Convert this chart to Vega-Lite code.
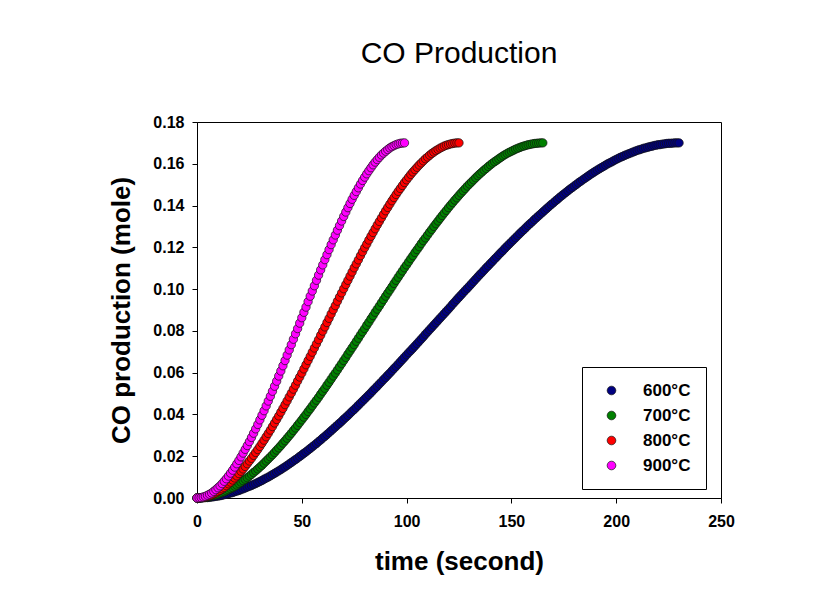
{
"$schema": "https://vega.github.io/schema/vega-lite/v6.json",
"autosize": "none",
"width": 524,
"height": 376,
"padding": {"left": 197, "top": 122, "right": 103, "bottom": 93},
"background": "white",
"config": {"view": {"stroke": "black", "strokeWidth": 1}, "font": "Liberation Sans"},
"title": {"text": "CO Production", "fontSize": 30, "fontWeight": "normal", "font": "Liberation Sans", "color": "black", "anchor": "middle", "frame": "group", "baseline": "alphabetic", "offset": 21},
"datasets": {
"d600": [{"t":0,"y":0},{"t":1,"y":0},{"t":2,"y":0},{"t":3,"y":0.0001},{"t":4,"y":0.0002},{"t":5,"y":0.0002},{"t":6,"y":0.0003},{"t":7,"y":0.0005},{"t":8,"y":0.0006},{"t":9,"y":0.0008},{"t":10,"y":0.0009},{"t":11,"y":0.0011},{"t":12,"y":0.0013},{"t":13,"y":0.0016},{"t":14,"y":0.0018},{"t":15,"y":0.0021},{"t":16,"y":0.0024},{"t":17,"y":0.0026},{"t":18,"y":0.003},{"t":19,"y":0.0033},{"t":20,"y":0.0036},{"t":21,"y":0.004},{"t":22,"y":0.0044},{"t":23,"y":0.0048},{"t":24,"y":0.0052},{"t":25,"y":0.0056},{"t":26,"y":0.006},{"t":27,"y":0.0065},{"t":28,"y":0.0069},{"t":29,"y":0.0074},{"t":30,"y":0.0079},{"t":31,"y":0.0084},{"t":32,"y":0.009},{"t":33,"y":0.0095},{"t":34,"y":0.01},{"t":35,"y":0.0106},{"t":36,"y":0.0112},{"t":37,"y":0.0118},{"t":38,"y":0.0124},{"t":39,"y":0.013},{"t":40,"y":0.0136},{"t":41,"y":0.0143},{"t":42,"y":0.0149},{"t":43,"y":0.0156},{"t":44,"y":0.0163},{"t":45,"y":0.017},{"t":46,"y":0.0177},{"t":47,"y":0.0184},{"t":48,"y":0.0191},{"t":49,"y":0.0199},{"t":50,"y":0.0206},{"t":51,"y":0.0214},{"t":52,"y":0.0221},{"t":53,"y":0.0229},{"t":54,"y":0.0237},{"t":55,"y":0.0245},{"t":56,"y":0.0253},{"t":57,"y":0.0261},{"t":58,"y":0.027},{"t":59,"y":0.0278},{"t":60,"y":0.0287},{"t":61,"y":0.0295},{"t":62,"y":0.0304},{"t":63,"y":0.0313},{"t":64,"y":0.0322},{"t":65,"y":0.0331},{"t":66,"y":0.034},{"t":67,"y":0.0349},{"t":68,"y":0.0358},{"t":69,"y":0.0367},{"t":70,"y":0.0377},{"t":71,"y":0.0386},{"t":72,"y":0.0395},{"t":73,"y":0.0405},{"t":74,"y":0.0415},{"t":75,"y":0.0424},{"t":76,"y":0.0434},{"t":77,"y":0.0444},{"t":78,"y":0.0454},{"t":79,"y":0.0464},{"t":80,"y":0.0474},{"t":81,"y":0.0484},{"t":82,"y":0.0494},{"t":83,"y":0.0504},{"t":84,"y":0.0515},{"t":85,"y":0.0525},{"t":86,"y":0.0535},{"t":87,"y":0.0546},{"t":88,"y":0.0556},{"t":89,"y":0.0567},{"t":90,"y":0.0577},{"t":91,"y":0.0588},{"t":92,"y":0.0598},{"t":93,"y":0.0609},{"t":94,"y":0.062},{"t":95,"y":0.063},{"t":96,"y":0.0641},{"t":97,"y":0.0652},{"t":98,"y":0.0663},{"t":99,"y":0.0674},{"t":100,"y":0.0685},{"t":101,"y":0.0696},{"t":102,"y":0.0706},{"t":103,"y":0.0717},{"t":104,"y":0.0728},{"t":105,"y":0.0739},{"t":106,"y":0.075},{"t":107,"y":0.0761},{"t":108,"y":0.0772},{"t":109,"y":0.0784},{"t":110,"y":0.0795},{"t":111,"y":0.0806},{"t":112,"y":0.0817},{"t":113,"y":0.0828},{"t":114,"y":0.0839},{"t":115,"y":0.085},{"t":116,"y":0.0861},{"t":117,"y":0.0872},{"t":118,"y":0.0883},{"t":119,"y":0.0894},{"t":120,"y":0.0905},{"t":121,"y":0.0916},{"t":122,"y":0.0928},{"t":123,"y":0.0939},{"t":124,"y":0.095},{"t":125,"y":0.0961},{"t":126,"y":0.0972},{"t":127,"y":0.0983},{"t":128,"y":0.0994},{"t":129,"y":0.1004},{"t":130,"y":0.1015},{"t":131,"y":0.1026},{"t":132,"y":0.1037},{"t":133,"y":0.1048},{"t":134,"y":0.1059},{"t":135,"y":0.107},{"t":136,"y":0.108},{"t":137,"y":0.1091},{"t":138,"y":0.1102},{"t":139,"y":0.1112},{"t":140,"y":0.1123},{"t":141,"y":0.1133},{"t":142,"y":0.1144},{"t":143,"y":0.1154},{"t":144,"y":0.1165},{"t":145,"y":0.1175},{"t":146,"y":0.1185},{"t":147,"y":0.1196},{"t":148,"y":0.1206},{"t":149,"y":0.1216},{"t":150,"y":0.1226},{"t":151,"y":0.1236},{"t":152,"y":0.1246},{"t":153,"y":0.1256},{"t":154,"y":0.1266},{"t":155,"y":0.1276},{"t":156,"y":0.1285},{"t":157,"y":0.1295},{"t":158,"y":0.1305},{"t":159,"y":0.1314},{"t":160,"y":0.1323},{"t":161,"y":0.1333},{"t":162,"y":0.1342},{"t":163,"y":0.1351},{"t":164,"y":0.136},{"t":165,"y":0.1369},{"t":166,"y":0.1378},{"t":167,"y":0.1387},{"t":168,"y":0.1396},{"t":169,"y":0.1405},{"t":170,"y":0.1413},{"t":171,"y":0.1422},{"t":172,"y":0.143},{"t":173,"y":0.1439},{"t":174,"y":0.1447},{"t":175,"y":0.1455},{"t":176,"y":0.1463},{"t":177,"y":0.1471},{"t":178,"y":0.1479},{"t":179,"y":0.1486},{"t":180,"y":0.1494},{"t":181,"y":0.1501},{"t":182,"y":0.1509},{"t":183,"y":0.1516},{"t":184,"y":0.1523},{"t":185,"y":0.153},{"t":186,"y":0.1537},{"t":187,"y":0.1544},{"t":188,"y":0.1551},{"t":189,"y":0.1557},{"t":190,"y":0.1564},{"t":191,"y":0.157},{"t":192,"y":0.1576},{"t":193,"y":0.1582},{"t":194,"y":0.1588},{"t":195,"y":0.1594},{"t":196,"y":0.16},{"t":197,"y":0.1605},{"t":198,"y":0.161},{"t":199,"y":0.1616},{"t":200,"y":0.1621},{"t":201,"y":0.1626},{"t":202,"y":0.1631},{"t":203,"y":0.1635},{"t":204,"y":0.164},{"t":205,"y":0.1644},{"t":206,"y":0.1648},{"t":207,"y":0.1652},{"t":208,"y":0.1656},{"t":209,"y":0.166},{"t":210,"y":0.1664},{"t":211,"y":0.1667},{"t":212,"y":0.167},{"t":213,"y":0.1674},{"t":214,"y":0.1676},{"t":215,"y":0.1679},{"t":216,"y":0.1682},{"t":217,"y":0.1684},{"t":218,"y":0.1687},{"t":219,"y":0.1689},{"t":220,"y":0.1691},{"t":221,"y":0.1692},{"t":222,"y":0.1694},{"t":223,"y":0.1695},{"t":224,"y":0.1697},{"t":225,"y":0.1698},{"t":226,"y":0.1698},{"t":227,"y":0.1699},{"t":228,"y":0.17},{"t":229,"y":0.17},{"t":230,"y":0.17}],
"d700": [{"t":0,"y":0},{"t":1,"y":0},{"t":2,"y":0.0001},{"t":3,"y":0.0002},{"t":4,"y":0.0003},{"t":5,"y":0.0005},{"t":6,"y":0.0007},{"t":7,"y":0.0009},{"t":8,"y":0.0012},{"t":9,"y":0.0015},{"t":10,"y":0.0018},{"t":11,"y":0.0022},{"t":12,"y":0.0026},{"t":13,"y":0.003},{"t":14,"y":0.0035},{"t":15,"y":0.004},{"t":16,"y":0.0045},{"t":17,"y":0.005},{"t":18,"y":0.0056},{"t":19,"y":0.0062},{"t":20,"y":0.0069},{"t":21,"y":0.0076},{"t":22,"y":0.0083},{"t":23,"y":0.009},{"t":24,"y":0.0097},{"t":25,"y":0.0105},{"t":26,"y":0.0113},{"t":27,"y":0.0122},{"t":28,"y":0.013},{"t":29,"y":0.0139},{"t":30,"y":0.0148},{"t":31,"y":0.0157},{"t":32,"y":0.0167},{"t":33,"y":0.0177},{"t":34,"y":0.0187},{"t":35,"y":0.0197},{"t":36,"y":0.0207},{"t":37,"y":0.0218},{"t":38,"y":0.0229},{"t":39,"y":0.024},{"t":40,"y":0.0251},{"t":41,"y":0.0263},{"t":42,"y":0.0274},{"t":43,"y":0.0286},{"t":44,"y":0.0298},{"t":45,"y":0.031},{"t":46,"y":0.0323},{"t":47,"y":0.0335},{"t":48,"y":0.0348},{"t":49,"y":0.0361},{"t":50,"y":0.0374},{"t":51,"y":0.0387},{"t":52,"y":0.04},{"t":53,"y":0.0414},{"t":54,"y":0.0427},{"t":55,"y":0.0441},{"t":56,"y":0.0455},{"t":57,"y":0.0468},{"t":58,"y":0.0482},{"t":59,"y":0.0497},{"t":60,"y":0.0511},{"t":61,"y":0.0525},{"t":62,"y":0.054},{"t":63,"y":0.0554},{"t":64,"y":0.0569},{"t":65,"y":0.0584},{"t":66,"y":0.0598},{"t":67,"y":0.0613},{"t":68,"y":0.0628},{"t":69,"y":0.0643},{"t":70,"y":0.0658},{"t":71,"y":0.0673},{"t":72,"y":0.0689},{"t":73,"y":0.0704},{"t":74,"y":0.0719},{"t":75,"y":0.0734},{"t":76,"y":0.075},{"t":77,"y":0.0765},{"t":78,"y":0.0781},{"t":79,"y":0.0796},{"t":80,"y":0.0811},{"t":81,"y":0.0827},{"t":82,"y":0.0842},{"t":83,"y":0.0858},{"t":84,"y":0.0873},{"t":85,"y":0.0889},{"t":86,"y":0.0904},{"t":87,"y":0.0919},{"t":88,"y":0.0935},{"t":89,"y":0.095},{"t":90,"y":0.0966},{"t":91,"y":0.0981},{"t":92,"y":0.0996},{"t":93,"y":0.1011},{"t":94,"y":0.1027},{"t":95,"y":0.1042},{"t":96,"y":0.1057},{"t":97,"y":0.1072},{"t":98,"y":0.1087},{"t":99,"y":0.1102},{"t":100,"y":0.1116},{"t":101,"y":0.1131},{"t":102,"y":0.1146},{"t":103,"y":0.116},{"t":104,"y":0.1175},{"t":105,"y":0.1189},{"t":106,"y":0.1203},{"t":107,"y":0.1218},{"t":108,"y":0.1232},{"t":109,"y":0.1245},{"t":110,"y":0.1259},{"t":111,"y":0.1273},{"t":112,"y":0.1286},{"t":113,"y":0.13},{"t":114,"y":0.1313},{"t":115,"y":0.1326},{"t":116,"y":0.1339},{"t":117,"y":0.1352},{"t":118,"y":0.1365},{"t":119,"y":0.1377},{"t":120,"y":0.139},{"t":121,"y":0.1402},{"t":122,"y":0.1414},{"t":123,"y":0.1426},{"t":124,"y":0.1437},{"t":125,"y":0.1449},{"t":126,"y":0.146},{"t":127,"y":0.1471},{"t":128,"y":0.1482},{"t":129,"y":0.1493},{"t":130,"y":0.1503},{"t":131,"y":0.1513},{"t":132,"y":0.1523},{"t":133,"y":0.1533},{"t":134,"y":0.1543},{"t":135,"y":0.1552},{"t":136,"y":0.1561},{"t":137,"y":0.157},{"t":138,"y":0.1578},{"t":139,"y":0.1587},{"t":140,"y":0.1595},{"t":141,"y":0.1603},{"t":142,"y":0.161},{"t":143,"y":0.1617},{"t":144,"y":0.1624},{"t":145,"y":0.1631},{"t":146,"y":0.1638},{"t":147,"y":0.1644},{"t":148,"y":0.165},{"t":149,"y":0.1655},{"t":150,"y":0.166},{"t":151,"y":0.1665},{"t":152,"y":0.167},{"t":153,"y":0.1674},{"t":154,"y":0.1678},{"t":155,"y":0.1682},{"t":156,"y":0.1685},{"t":157,"y":0.1688},{"t":158,"y":0.1691},{"t":159,"y":0.1693},{"t":160,"y":0.1695},{"t":161,"y":0.1697},{"t":162,"y":0.1698},{"t":163,"y":0.1699},{"t":164,"y":0.17},{"t":165,"y":0.17}],
"d800": [{"t":0,"y":0},{"t":1,"y":0},{"t":2,"y":0.0001},{"t":3,"y":0.0003},{"t":4,"y":0.0005},{"t":5,"y":0.0008},{"t":6,"y":0.0011},{"t":7,"y":0.0015},{"t":8,"y":0.002},{"t":9,"y":0.0025},{"t":10,"y":0.0031},{"t":11,"y":0.0037},{"t":12,"y":0.0044},{"t":13,"y":0.0051},{"t":14,"y":0.0059},{"t":15,"y":0.0068},{"t":16,"y":0.0076},{"t":17,"y":0.0086},{"t":18,"y":0.0096},{"t":19,"y":0.0106},{"t":20,"y":0.0117},{"t":21,"y":0.0128},{"t":22,"y":0.0139},{"t":23,"y":0.0151},{"t":24,"y":0.0164},{"t":25,"y":0.0177},{"t":26,"y":0.019},{"t":27,"y":0.0204},{"t":28,"y":0.0218},{"t":29,"y":0.0232},{"t":30,"y":0.0247},{"t":31,"y":0.0262},{"t":32,"y":0.0277},{"t":33,"y":0.0293},{"t":34,"y":0.0309},{"t":35,"y":0.0325},{"t":36,"y":0.0342},{"t":37,"y":0.0359},{"t":38,"y":0.0376},{"t":39,"y":0.0393},{"t":40,"y":0.0411},{"t":41,"y":0.0429},{"t":42,"y":0.0447},{"t":43,"y":0.0465},{"t":44,"y":0.0484},{"t":45,"y":0.0502},{"t":46,"y":0.0521},{"t":47,"y":0.054},{"t":48,"y":0.056},{"t":49,"y":0.0579},{"t":50,"y":0.0598},{"t":51,"y":0.0618},{"t":52,"y":0.0638},{"t":53,"y":0.0658},{"t":54,"y":0.0678},{"t":55,"y":0.0698},{"t":56,"y":0.0718},{"t":57,"y":0.0738},{"t":58,"y":0.0758},{"t":59,"y":0.0779},{"t":60,"y":0.0799},{"t":61,"y":0.0819},{"t":62,"y":0.084},{"t":63,"y":0.086},{"t":64,"y":0.0881},{"t":65,"y":0.0901},{"t":66,"y":0.0921},{"t":67,"y":0.0942},{"t":68,"y":0.0962},{"t":69,"y":0.0982},{"t":70,"y":0.1002},{"t":71,"y":0.1022},{"t":72,"y":0.1042},{"t":73,"y":0.1062},{"t":74,"y":0.1082},{"t":75,"y":0.1102},{"t":76,"y":0.1121},{"t":77,"y":0.114},{"t":78,"y":0.116},{"t":79,"y":0.1179},{"t":80,"y":0.1198},{"t":81,"y":0.1216},{"t":82,"y":0.1235},{"t":83,"y":0.1253},{"t":84,"y":0.1271},{"t":85,"y":0.1289},{"t":86,"y":0.1307},{"t":87,"y":0.1324},{"t":88,"y":0.1341},{"t":89,"y":0.1358},{"t":90,"y":0.1375},{"t":91,"y":0.1391},{"t":92,"y":0.1407},{"t":93,"y":0.1423},{"t":94,"y":0.1438},{"t":95,"y":0.1453},{"t":96,"y":0.1468},{"t":97,"y":0.1482},{"t":98,"y":0.1496},{"t":99,"y":0.151},{"t":100,"y":0.1523},{"t":101,"y":0.1536},{"t":102,"y":0.1549},{"t":103,"y":0.1561},{"t":104,"y":0.1572},{"t":105,"y":0.1583},{"t":106,"y":0.1594},{"t":107,"y":0.1604},{"t":108,"y":0.1614},{"t":109,"y":0.1624},{"t":110,"y":0.1632},{"t":111,"y":0.1641},{"t":112,"y":0.1649},{"t":113,"y":0.1656},{"t":114,"y":0.1663},{"t":115,"y":0.1669},{"t":116,"y":0.1675},{"t":117,"y":0.168},{"t":118,"y":0.1685},{"t":119,"y":0.1689},{"t":120,"y":0.1692},{"t":121,"y":0.1695},{"t":122,"y":0.1697},{"t":123,"y":0.1699},{"t":124,"y":0.17},{"t":125,"y":0.17}],
"d900": [{"t":0,"y":0},{"t":1,"y":0.0001},{"t":2,"y":0.0002},{"t":3,"y":0.0005},{"t":4,"y":0.0008},{"t":5,"y":0.0013},{"t":6,"y":0.0018},{"t":7,"y":0.0024},{"t":8,"y":0.0032},{"t":9,"y":0.004},{"t":10,"y":0.0049},{"t":11,"y":0.0058},{"t":12,"y":0.0069},{"t":13,"y":0.008},{"t":14,"y":0.0092},{"t":15,"y":0.0105},{"t":16,"y":0.0119},{"t":17,"y":0.0133},{"t":18,"y":0.0148},{"t":19,"y":0.0164},{"t":20,"y":0.018},{"t":21,"y":0.0197},{"t":22,"y":0.0215},{"t":23,"y":0.0233},{"t":24,"y":0.0251},{"t":25,"y":0.027},{"t":26,"y":0.029},{"t":27,"y":0.031},{"t":28,"y":0.0331},{"t":29,"y":0.0352},{"t":30,"y":0.0374},{"t":31,"y":0.0396},{"t":32,"y":0.0418},{"t":33,"y":0.0441},{"t":34,"y":0.0464},{"t":35,"y":0.0487},{"t":36,"y":0.0511},{"t":37,"y":0.0535},{"t":38,"y":0.0559},{"t":39,"y":0.0584},{"t":40,"y":0.0608},{"t":41,"y":0.0633},{"t":42,"y":0.0658},{"t":43,"y":0.0684},{"t":44,"y":0.0709},{"t":45,"y":0.0734},{"t":46,"y":0.076},{"t":47,"y":0.0786},{"t":48,"y":0.0811},{"t":49,"y":0.0837},{"t":50,"y":0.0863},{"t":51,"y":0.0889},{"t":52,"y":0.0914},{"t":53,"y":0.094},{"t":54,"y":0.0966},{"t":55,"y":0.0991},{"t":56,"y":0.1016},{"t":57,"y":0.1042},{"t":58,"y":0.1067},{"t":59,"y":0.1092},{"t":60,"y":0.1116},{"t":61,"y":0.1141},{"t":62,"y":0.1165},{"t":63,"y":0.1189},{"t":64,"y":0.1213},{"t":65,"y":0.1236},{"t":66,"y":0.1259},{"t":67,"y":0.1282},{"t":68,"y":0.1304},{"t":69,"y":0.1326},{"t":70,"y":0.1348},{"t":71,"y":0.1369},{"t":72,"y":0.139},{"t":73,"y":0.141},{"t":74,"y":0.143},{"t":75,"y":0.1449},{"t":76,"y":0.1467},{"t":77,"y":0.1485},{"t":78,"y":0.1503},{"t":79,"y":0.152},{"t":80,"y":0.1536},{"t":81,"y":0.1552},{"t":82,"y":0.1567},{"t":83,"y":0.1581},{"t":84,"y":0.1595},{"t":85,"y":0.1608},{"t":86,"y":0.162},{"t":87,"y":0.1631},{"t":88,"y":0.1642},{"t":89,"y":0.1651},{"t":90,"y":0.166},{"t":91,"y":0.1668},{"t":92,"y":0.1676},{"t":93,"y":0.1682},{"t":94,"y":0.1687},{"t":95,"y":0.1692},{"t":96,"y":0.1695},{"t":97,"y":0.1698},{"t":98,"y":0.1699},{"t":99,"y":0.17}]
},
"encoding": {
"x": {"field": "t", "type": "quantitative", "scale": {"domain": [0, 250], "nice": false, "zero": false},
 "axis": {"title": "time (second)", "values": [0, 50, 100, 150, 200, 250], "grid": false, "domainColor": "black", "tickColor": "black", "tickSize": 5, "labelFont": "Liberation Sans", "labelFontSize": 16, "labelFontWeight": "bold", "labelColor": "black", "labelPadding": 10, "labelFlush": false, "titleFont": "Liberation Sans", "titleFontSize": 26, "titleFontWeight": "bold", "titleColor": "black", "titlePadding": 19}},
"y": {"field": "y", "type": "quantitative", "scale": {"domain": [0, 0.18], "nice": false},
 "axis": {"title": "CO production (mole)", "values": [0, 0.02, 0.04, 0.06, 0.08, 0.1, 0.12, 0.14, 0.16, 0.18], "format": ".2f", "grid": false, "domainColor": "black", "tickColor": "black", "tickSize": 5, "labelFont": "Liberation Sans", "labelFontSize": 16, "labelFontWeight": "bold", "labelColor": "black", "labelPadding": 8, "labelFlush": false, "titleFont": "Liberation Sans", "titleFontSize": 26, "titleFontWeight": "bold", "titleColor": "black", "titlePadding": 18}}
},
"layer": [
{"data": {"name": "d600"}, "mark": {"type": "point", "filled": true, "size": 70, "stroke": "#111111", "strokeWidth": 0.7, "opacity": 1},
 "encoding": {"color": {"datum": "600°C", "type": "nominal",
  "scale": {"domain": ["600°C", "700°C", "800°C", "900°C"], "range": ["#000080", "#008000", "#ff0000", "#ff00ff"]},
  "legend": {"title": null, "orient": "none", "legendX": 385, "legendY": 245, "strokeColor": "black", "fillColor": "white", "padding": 15, "symbolOffset": 6, "labelOffset": 23, "rowPadding": 7, "symbolType": "circle", "symbolSize": 75, "symbolStrokeColor": "#111111", "symbolStrokeWidth": 0.7, "labelFont": "Liberation Sans", "labelFontSize": 17, "labelFontWeight": "bold", "labelColor": "black"}}}},
{"data": {"name": "d700"}, "mark": {"type": "point", "filled": true, "size": 70, "stroke": "#111111", "strokeWidth": 0.7, "opacity": 1},
 "encoding": {"color": {"datum": "700°C", "type": "nominal"}}},
{"data": {"name": "d800"}, "mark": {"type": "point", "filled": true, "size": 70, "stroke": "#111111", "strokeWidth": 0.7, "opacity": 1},
 "encoding": {"color": {"datum": "800°C", "type": "nominal"}}},
{"data": {"name": "d900"}, "mark": {"type": "point", "filled": true, "size": 70, "stroke": "#111111", "strokeWidth": 0.7, "opacity": 1},
 "encoding": {"color": {"datum": "900°C", "type": "nominal"}}}
]
}
